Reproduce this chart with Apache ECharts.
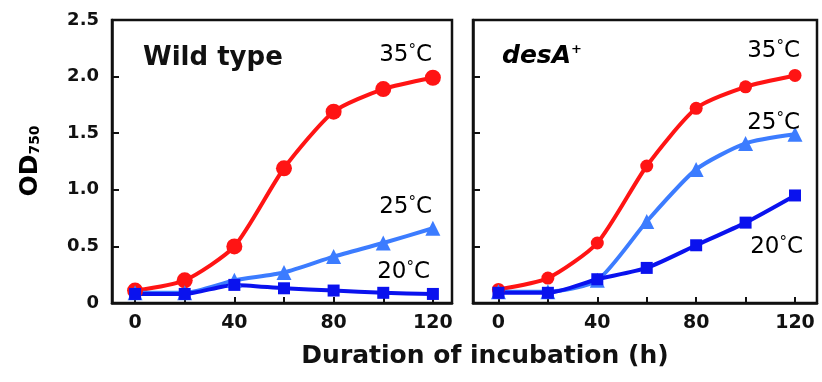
<!DOCTYPE html>
<html>
<head>
<meta charset="utf-8">
<script src="https://cdn.jsdelivr.net/npm/echarts@6/dist/echarts.min.js"></script>
<style>
  html, body { margin: 0; padding: 0; background: #fff; }
  #chart { width: 822px; height: 382px; }
</style>
</head>
<body>
<div id="chart"></div>
<script>
// Sampling times (h)
const hours = [0, 20, 40, 60, 80, 100, 120];

// OD750 growth curves, wild type
const wt35 = [0.11, 0.20, 0.50, 1.19, 1.69, 1.89, 1.99];
const wt25 = [0.09, 0.09, 0.20, 0.27, 0.41, 0.53, 0.66];
const wt20 = [0.08, 0.08, 0.16, 0.13, 0.11, 0.09, 0.08];

// OD750 growth curves, desA+ strain
const ds35 = [0.12, 0.22, 0.53, 1.21, 1.72, 1.91, 2.01];
const ds25 = [0.10, 0.10, 0.20, 0.72, 1.18, 1.41, 1.49];
const ds20 = [0.09, 0.09, 0.21, 0.31, 0.51, 0.71, 0.95];

// Axis ticks
const xLabels = [0, 40, 80, 120];
const xTicks = [0, 20, 40, 60, 80, 100, 120];

const RED = '#ff1414';
const LIGHT = '#3c7cff';
const DARK = '#0a12ee';
const INK = '#111';
const FONT = 'DejaVu Sans';

const pair = (vals) => hours.map((h, i) => [h, vals[i]]);

function curve(name, vals, color, symbol, size, idx) {
  return {
    name, type: 'line', data: pair(vals),
    xAxisIndex: idx, yAxisIndex: idx,
    smooth: 0.22,
    symbol, symbolSize: size,
    lineStyle: { color, width: 4 },
    itemStyle: { color },
    z: 3
  };
}

function xAxisFor(idx, min, max) {
  return {
    type: 'value', gridIndex: idx, min, max,
    position: 'bottom',
    axisLine: { show: true, onZero: false, lineStyle: { color: INK, width: 2.5 } },
    splitLine: { show: false },
    axisTick: { show: true, inside: true, length: 6, customValues: xTicks,
                lineStyle: { color: INK, width: 2 } },
    axisLabel: { customValues: xLabels, margin: 11, color: INK,
                 fontFamily: FONT, fontWeight: 'bold', fontSize: 19 }
  };
}

function yAxisFor(idx, showLabels) {
  return {
    type: 'value', gridIndex: idx, min: 0, max: 2.5, interval: 0.5,
    position: 'left',
    axisLine: { show: true, onZero: false, lineStyle: { color: INK, width: 2.5 } },
    splitLine: { show: false },
    axisTick: { show: true, inside: true, length: 7,
                lineStyle: { color: INK, width: 2 } },
    axisLabel: { show: showLabels, margin: 13, color: INK,
                 fontFamily: FONT, fontWeight: 'bold', fontSize: 18,
                 formatter: v => v === 0 ? '0' : v.toFixed(1) }
  };
}

const gridBox = { show: true, borderColor: INK, borderWidth: 2.5 };

const degRich = {
  n: { fontFamily: FONT, fontSize: 23, color: INK },
  d: { fontFamily: FONT, fontSize: 15, color: INK, verticalAlign: 'top' }
};

function tempLabel(x, y, t) {
  return {
    type: 'text', x, y, z: 10,
    style: {
      text: '{n|' + t + '}{d|°}{n|C}', rich: degRich,
      align: 'right', textAlign: 'right',
      verticalAlign: 'middle', textVerticalAlign: 'middle'
    }
  };
}

const chart = echarts.init(document.getElementById('chart'), null, { renderer: 'canvas' });

chart.setOption({
  animation: false,
  backgroundColor: '#fff',
  grid: [
    Object.assign({ left: 112, top: 20, width: 340, height: 283 }, gridBox),
    Object.assign({ left: 473, top: 20, width: 344, height: 283 }, gridBox)
  ],
  xAxis: [xAxisFor(0, -9.3, 127.7), xAxisFor(1, -10.3, 128.9)],
  yAxis: [yAxisFor(0, true), yAxisFor(1, false)],
  series: [
    curve('35°C', wt35, RED, 'circle', 16, 0),
    curve('25°C', wt25, LIGHT, 'triangle', 15, 0),
    curve('20°C', wt20, DARK, 'rect', 12, 0),
    curve('35°C', ds35, RED, 'circle', 13, 1),
    curve('25°C', ds25, LIGHT, 'triangle', 15, 1),
    curve('20°C', ds20, DARK, 'rect', 12, 1)
  ],
  graphic: [
    {
      type: 'text', x: 143, y: 58, z: 10,
      style: { text: 'Wild type', fontFamily: FONT, fontWeight: 'bold', fontSize: 26,
               fill: INK, verticalAlign: 'middle', textVerticalAlign: 'middle' }
    },
    {
      type: 'text', x: 502, y: 56, z: 10,
      style: {
        text: '{a|desA}{p|+}',
        rich: {
          a: { fontFamily: FONT, fontWeight: 'bold', fontStyle: 'italic', fontSize: 25, color: INK },
          p: { fontFamily: FONT, fontWeight: 'bold', fontSize: 13, color: INK, verticalAlign: 'top' }
        },
        verticalAlign: 'middle', textVerticalAlign: 'middle'
      }
    },
    tempLabel(432, 55, '35'),
    tempLabel(432, 207, '25'),
    tempLabel(430, 272, '20'),
    tempLabel(800, 51, '35'),
    tempLabel(800, 123, '25'),
    tempLabel(803, 247, '20'),
    {
      type: 'text', x: 485, y: 356, z: 10,
      style: { text: 'Duration of incubation (h)', fontFamily: FONT, fontWeight: 'bold',
               fontSize: 25, fill: INK,
               align: 'center', textAlign: 'center',
               verticalAlign: 'middle', textVerticalAlign: 'middle' }
    },
    {
      type: 'text', x: 30, y: 161, rotation: Math.PI / 2, z: 10,
      style: {
        text: '{a|OD}{b|750}',
        rich: {
          a: { fontFamily: FONT, fontWeight: 'bold', fontSize: 25, color: INK },
          b: { fontFamily: FONT, fontWeight: 'bold', fontSize: 14, color: INK, verticalAlign: 'bottom', padding: [6, 0, 0, 0] }
        },
        align: 'center', textAlign: 'center',
        verticalAlign: 'middle', textVerticalAlign: 'middle'
      }
    }
  ]
});
</script>
</body>
</html>
